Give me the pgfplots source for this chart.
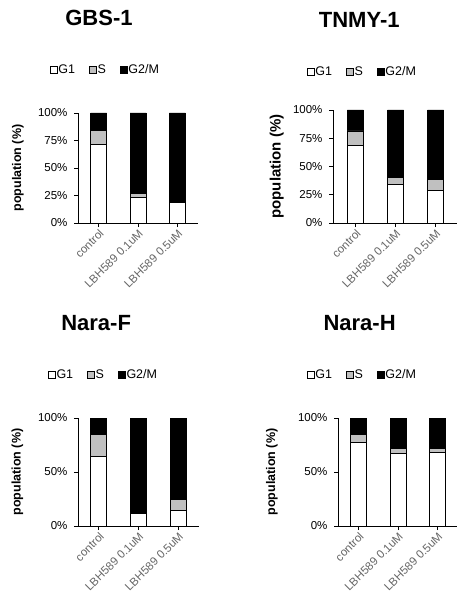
\documentclass[border=0pt]{standalone}
\usepackage{pgfplots}
\pgfplotsset{compat=1.18}
\usepackage{fontspec}
\setmainfont{Liberation Sans}
\definecolor{sgray}{HTML}{C0C0C0}
\pgfplotsset{
  cell/.style={
    scale only axis, ybar stacked, bar width=16pt,
    ymin=0, ymax=100, xmin=-0.52, xmax=2.52,
    axis x line*=bottom, axis y line*=left, axis line style={-, black, line width=0.7pt},
    xtick={0,1,2}, xticklabels={control, LBH589 0.1uM, LBH589 0.5uM},
    xticklabel style={rotate=45, anchor=north east, font=\fontsize{11.5}{13}\selectfont, text=black!60, inner sep=1pt},
    yticklabel style={font=\fontsize{11.5}{13}\selectfont, xshift=-3pt},
    tick align=outside, major tick length=4pt, tick style={black, line width=0.6pt},
    ylabel={population (\%)},
    ylabel style={font=\bfseries\fontsize{12.5}{14}\selectfont, anchor=center},
    every axis title shift=0pt,
    title style={font=\bfseries\fontsize{22}{26}\selectfont, anchor=center, yshift=0pt},
    legend columns=3,
    legend style={draw=none, fill=none, font=\fontsize{12.5}{14}\selectfont,
      /tikz/every even column/.append style={column sep=13pt},
      nodes={inner sep=1pt}},
    legend image code/.code={\draw[#1, line width=0.5pt] (0pt,-3.5pt) rectangle (7pt,3.5pt);},
    every axis plot/.append style={draw=black, line width=0.8pt},
  },
  quarter/.style={ytick={0,25,50,75,100}, yticklabels={0\%,25\%,50\%,75\%,100\%}},
  half/.style={ytick={0,50,100}, yticklabels={0\%,50\%,100\%}},
}
\begin{document}
\begin{tikzpicture}
\useasboundingbox (0,0) rectangle (456pt,-601pt);
% GBS-1
\begin{axis}[cell, quarter, at={(78pt,-223pt)}, anchor=south west, width=120pt, height=110pt,
  title={GBS-1}, title style={at={(rel axis cs:0.175,1.86)}},
  ylabel style={at={(rel axis cs:-0.5,0.5)}},
  legend style={at={(rel axis cs:0.225,1.39)}, anchor=center}]
\addplot[fill=white] coordinates {(0,71) (1,23) (2,19)};
\addplot[fill=sgray] coordinates {(0,13) (1,4) (2,0.5)};
\addplot[fill=black] coordinates {(0,16) (1,73) (2,80.5)};
\legend{G1,S,G2/M}
\end{axis}
% TNMY-1
\begin{axis}[cell, quarter, at={(333pt,-223pt)}, anchor=south west, width=125pt, height=113pt,
  xmin=-0.56, xmax=2.56,
  title={TNMY-1}, title style={at={(rel axis cs:0.21,1.80)}},
  ylabel style={at={(rel axis cs:-0.45,0.5)}, font=\bfseries\fontsize{15}{17}\selectfont},
  legend style={at={(rel axis cs:0.232,1.34)}, anchor=center}]
\addplot[fill=white] coordinates {(0,69) (1,34.5) (2,28.5)};
\addplot[fill=sgray] coordinates {(0,12.5) (1,6) (2,10)};
\addplot[fill=black] coordinates {(0,18.5) (1,59.5) (2,61.5)};
\legend{G1,S,G2/M}
\end{axis}
% Nara-F
\begin{axis}[cell, half, at={(78pt,-526pt)}, anchor=south west, width=121pt, height=108pt,
  title={Nara-F}, title style={at={(rel axis cs:0.15,1.88)}},
  ylabel style={at={(rel axis cs:-0.5,0.5)}},
  legend style={at={(rel axis cs:0.207,1.40)}, anchor=center}]
\addplot[fill=white] coordinates {(0,64) (1,12) (2,14)};
\addplot[fill=sgray] coordinates {(0,21) (1,0.5) (2,10.5)};
\addplot[fill=black] coordinates {(0,15) (1,87.5) (2,75.5)};
\legend{G1,S,G2/M}
\end{axis}
% Nara-H
\begin{axis}[cell, half, at={(338pt,-526pt)}, anchor=south west, width=120pt, height=108pt,
  title={Nara-H}, title style={at={(rel axis cs:0.18,1.88)}},
  ylabel style={at={(rel axis cs:-0.55,0.5)}},
  legend style={at={(rel axis cs:0.2,1.40)}, anchor=center}]
\addplot[fill=white] coordinates {(0,77) (1,67.5) (2,68.5)};
\addplot[fill=sgray] coordinates {(0,8) (1,4) (2,3.5)};
\addplot[fill=black] coordinates {(0,15) (1,28.5) (2,28)};
\legend{G1,S,G2/M}
\end{axis}
\end{tikzpicture}
\end{document}
